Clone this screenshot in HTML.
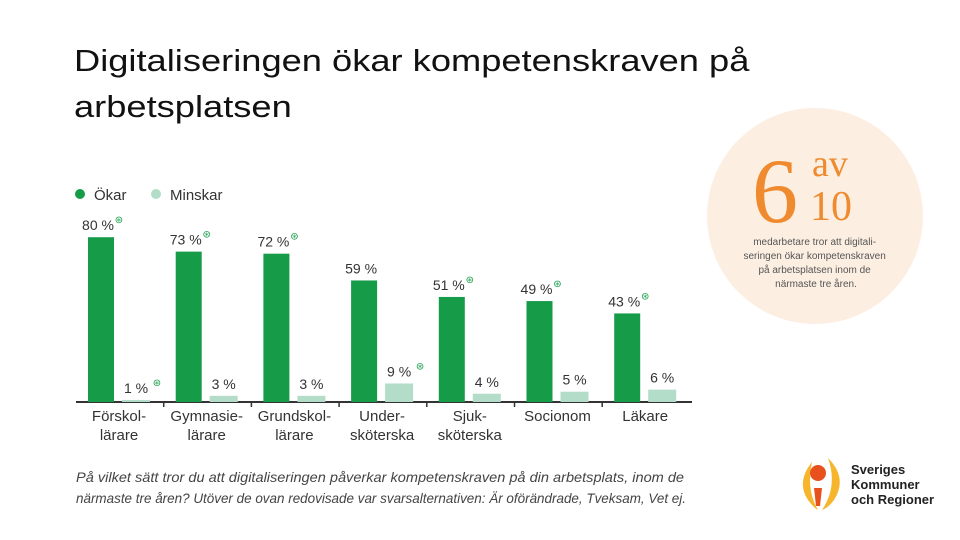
<!DOCTYPE html>
<html><head><meta charset="utf-8"><style>
body{margin:0;width:960px;height:540px;background:#fff;overflow:hidden;position:relative;font-family:"Liberation Sans",sans-serif}
.t{position:absolute;left:74px;top:38px;font-size:31px;line-height:46px;color:#111;font-family:"Liberation Sans",sans-serif;margin:0;font-weight:normal;transform:scaleX(1.17);transform-origin:0 0;white-space:nowrap}
</style></head><body>
<h1 class="t">Digitaliseringen ökar kompetenskraven på<br>arbetsplatsen</h1>
<svg id="chart" width="960" height="540" style="position:absolute;left:0;top:0">
<g>
<circle cx="80" cy="194" r="5" fill="#169b48"/>
<text x="94" y="200" font-size="15" fill="#333">Ökar</text>
<circle cx="156" cy="194" r="5" fill="#b3ddc8"/>
<text x="170" y="200" font-size="15" fill="#333">Minskar</text>
</g>
<line x1="76" y1="402" x2="692" y2="402" stroke="#333" stroke-width="2"/>
<g id="bars"></g>
<text x="76" y="482" font-size="14" font-style="italic" fill="#444" textLength="608" lengthAdjust="spacingAndGlyphs">På vilket sätt tror du att digitaliseringen påverkar kompetenskraven på din arbetsplats, inom de</text>
<text x="76" y="503" font-size="14" font-style="italic" fill="#444" textLength="610" lengthAdjust="spacingAndGlyphs">närmaste tre åren? Utöver de ovan redovisade var svarsalternativen: Är oförändrade, Tveksam, Vet ej.</text>
<g>
<circle cx="815" cy="216" r="108" fill="#fcefe2"/>
<text x="752" y="222" font-size="92" fill="#ef8a2e" font-family="Liberation Serif,serif">6</text>
<text x="812" y="176" font-size="38" fill="#ef8a2e" font-family="Liberation Serif,serif">av</text>
<text x="810" y="220" font-size="42" fill="#ef8a2e" font-family="Liberation Serif,serif">10</text>
<text text-anchor="middle" font-size="10" fill="#555">
<tspan x="816" y="245">medarbetare tror att digitali-</tspan>
<tspan x="816" y="259">seringen ökar kompetenskraven</tspan>
<tspan x="816" y="273">på arbetsplatsen inom de</tspan>
<tspan x="816" y="287">närmaste tre åren.</tspan></text>
</g>
<g>
<path d="M812 462 q-16 20 -4 38 q6 8 10 10 q-12 -20 -6 -48z" fill="#f7b52b"/>
<path d="M828 458 q20 20 6 42 q-6 8 -12 10 q16 -24 6 -52z" fill="#f7b52b"/>
<circle cx="818" cy="473" r="8" fill="#e8501e"/>
<path d="M814 488 l8 0 l-2 18 l-4 0z" fill="#e8501e"/>
<text font-size="13" font-weight="bold" fill="#222"><tspan x="851" y="474">Sveriges</tspan><tspan x="851" y="489">Kommuner</tspan><tspan x="851" y="504">och Regioner</tspan></text>
</g>
</svg>
<script>
const categories=[["Förskol-","lärare"],["Gymnasie-","lärare"],["Grundskol-","lärare"],["Under-","sköterska"],["Sjuk-","sköterska"],["Socionom",""],["Läkare",""]];
const okar=[80,73,72,59,51,49,43];
const minskar=[1,3,3,9,4,5,6];
const okarStar=[true,true,true,false,true,true,true];
const minskarStar=[true,false,false,true,false,false,false];
const base=402, k=2.06, x0=88, step=87.7, bw=26;
const yS=v=>base-v*k;
const g=document.getElementById('bars');
const NS="http://www.w3.org/2000/svg";
function mk(t,a){const e=document.createElementNS(NS,t);for(const n in a)e.setAttribute(n,a[n]);g.appendChild(e);return e;}
function label(x,y,v,star,name){
  const t=mk('text',{x:x,y:y,'text-anchor':'middle','font-size':14,fill:'#333'});
  t.textContent=v+' %';
  
  
  if(star){const s=mk('text',{x:x+21,y:y-7,'font-size':10,fill:'#169b48','text-anchor':'middle'});s.textContent='⊛';
  
  }
}
categories.forEach((c,i)=>{
  const gx=x0+i*step;
  const r1=mk('rect',{x:gx,y:yS(okar[i]),width:bw,height:okar[i]*k,fill:'#169b48'});
  
  
  const r2=mk('rect',{x:gx+34,y:yS(minskar[i]),width:28,height:minskar[i]*k,fill:'#b3ddc8'});
  
  
  label(gx+10,yS(okar[i])-7,okar[i],okarStar[i],'value-okar-'+i);
  label(gx+48,yS(minskar[i])-7,minskar[i],minskarStar[i],'value-minskar-'+i);
  const cx=gx+31;
  const t=mk('text',{x:cx,y:421,'text-anchor':'middle','font-size':15,fill:'#333'});
  t.innerHTML='<tspan x="'+cx+'">'+c[0]+'</tspan><tspan x="'+cx+'" dy="19">'+c[1]+'</tspan>';
  
  
  if(i>0){const tk=mk('line',{x1:gx-12,x2:gx-12,y1:402,y2:407,stroke:'#333','stroke-width':1.5});
  
  }
});
</script>
</body></html>
